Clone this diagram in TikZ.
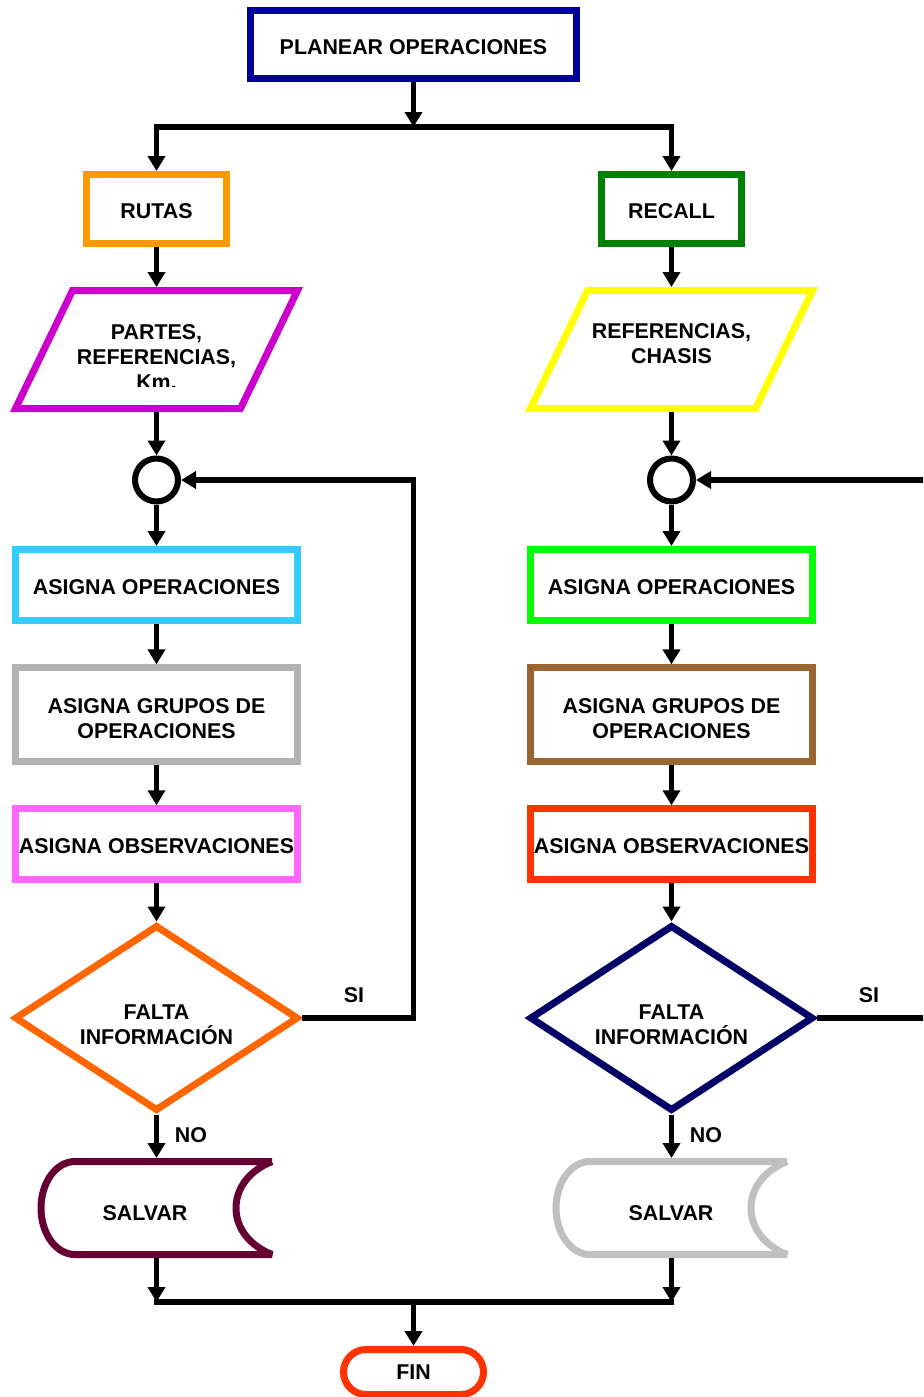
\documentclass[tikz,border=0pt]{standalone}
\usepackage{fontspec}
\setmainfont{Liberation Sans}
\usetikzlibrary{arrows.meta,shapes.geometric,calc}

\definecolor{cPlan}{RGB}{0,0,153}
\definecolor{cRutas}{RGB}{255,153,0}
\definecolor{cRecall}{RGB}{0,128,0}
\definecolor{cPartes}{RGB}{204,0,204}
\definecolor{cChasis}{RGB}{255,255,0}
\definecolor{cOpsL}{RGB}{51,204,255}
\definecolor{cOpsR}{RGB}{0,255,0}
\definecolor{cGrpL}{RGB}{178,178,178}
\definecolor{cGrpR}{RGB}{153,102,51}
\definecolor{cObsL}{RGB}{255,102,255}
\definecolor{cObsR}{RGB}{255,51,0}
\definecolor{cDecL}{RGB}{255,102,0}
\definecolor{cDecR}{RGB}{0,0,102}
\definecolor{cSavL}{RGB}{102,0,51}
\definecolor{cSavR}{RGB}{192,192,192}
\definecolor{cFin}{RGB}{255,51,0}

\begin{document}
\begin{tikzpicture}[x=0.5pt,y=-0.5pt,
  txt/.style={font=\bfseries\fontsize{10.7}{12.5}\selectfont, align=center, inner sep=0pt},
  box/.style={rectangle, draw, fill=white, line width=3.5pt, inner sep=0pt},
  wide/.style={minimum width=140.6pt},
  frame/.style={inner sep=0pt, outer sep=0pt},
  shapeline/.style={line width=3.5pt, line join=miter},
  conn/.style={line width=2.6pt, draw=black},
  arrow/.style={conn, -{Triangle[length=7.5pt,width=8.5pt]}},
  joint/.style={circle, draw=black, fill=white, line width=3pt, minimum size=21.5pt, inner sep=0pt},
  decision/.style={diamond, draw, fill=white, line width=3.5pt, inner sep=0pt,
                   minimum width=142pt, minimum height=93pt},
  storedata/.style={line width=3.5pt, line join=bevel}
]
\useasboundingbox (0,0) rectangle (923,1397);
\clip (0,0) rectangle (923,1397);
\fill[white] (0,0) rectangle (923,1397);

% ---------- top ----------
\node[box, draw=cPlan, minimum width=163pt, minimum height=34pt] (plan) at (413.5,44.5) {};
\node[txt] (planT) at (413.5,47.5) {PLANEAR OPERACIONES};
\coordinate (split) at (413.5,127);

\node[box, draw=cRutas,  minimum width=70pt, minimum height=34.5pt] (rutas)  at (156.5,209) {};
\node[box, draw=cRecall, minimum width=70pt, minimum height=34.5pt] (recall) at (671.5,209) {};
\node[txt] (rutasT)  at (156.5,211) {RUTAS};
\node[txt] (recallT) at (671.5,211) {RECALL};

% ---------- data (parallelograms) ----------
\node[frame, minimum width=146pt, minimum height=62.5pt] (pL) at (156.5,349.5) {};
\node[frame, minimum width=146pt, minimum height=62.5pt] (pR) at (671.5,349.5) {};
\begin{scope}[shift={(pL.center)}]
  \draw[shapeline, draw=cPartes, fill=white] (-84,-59) -- (141,-59) -- (84,59) -- (-141,59) -- cycle;
\end{scope}
\begin{scope}[shift={(pR.center)}]
  \draw[shapeline, draw=cChasis, fill=white] (-84,-59) -- (141,-59) -- (84,59) -- (-141,59) -- cycle;
\end{scope}
\begin{scope}
  \clip (0,280) rectangle (330,386);
  \node[txt] (pLtext) at (156.5,357) {PARTES,\\REFERENCIAS,\\Km.};
\end{scope}
\node[txt] (pRtext) at (671.5,344) {REFERENCIAS,\\CHASIS};

% ---------- joints ----------
\node[joint] (cL) at (156.5,480) {};
\node[joint] (cR) at (671.5,480) {};

% ---------- process boxes ----------
\node[box, wide, draw=cOpsL, minimum height=35.5pt] (opsL) at (156.5,585) {};
\node[box, wide, draw=cOpsR, minimum height=35.5pt] (opsR) at (671.5,585) {};
\node[box, wide, draw=cGrpL, minimum height=46.8pt] (grpL) at (156.5,714.7) {};
\node[box, wide, draw=cGrpR, minimum height=46.8pt] (grpR) at (671.5,714.7) {};
\node[box, wide, draw=cObsL, minimum height=35.2pt] (obsL) at (156.5,844) {};
\node[box, wide, draw=cObsR, minimum height=35.2pt] (obsR) at (671.5,844) {};
\node[txt] (opsLT) at (156.5,587) {ASIGNA OPERACIONES};
\node[txt] (opsRT) at (671.5,587) {ASIGNA OPERACIONES};
\node[txt] (grpLT) at (156.5,718.7) {ASIGNA GRUPOS DE\\OPERACIONES};
\node[txt] (grpRT) at (671.5,718.7) {ASIGNA GRUPOS DE\\OPERACIONES};
\node[txt] (obsLT) at (156.5,846) {ASIGNA OBSERVACIONES};
\node[txt] (obsRT) at (671.5,846) {ASIGNA OBSERVACIONES};

% ---------- decisions ----------
\node[decision, draw=cDecL] (decL) at (156.5,1018) {};
\node[decision, draw=cDecR] (decR) at (671.5,1018) {};
\node[txt] (decLT) at (156.5,1024.5) {FALTA\\INFORMACIÓN};
\node[txt] (decRT) at (671.5,1024.5) {FALTA\\INFORMACIÓN};

\node[txt] (siL) at (354,995) {SI};
\node[txt] (siR) at (869,995) {SI};
\node[txt] (noL) at (191,1135) {NO};
\node[txt] (noR) at (706,1135) {NO};

% ---------- stored data ----------
\node[frame, minimum width=119pt, minimum height=50pt] (salL) at (156.5,1208) {};
\node[frame, minimum width=119pt, minimum height=50pt] (salR) at (671.5,1208) {};
\begin{scope}[shift={(salL.center)}]
  \draw[storedata, draw=cSavL]
    (115.5,-46.5) -- (-81.5,-46.5)
    .. controls (-100.5,-46.5) and (-115.5,-25.5) .. (-115.5,0)
    .. controls (-115.5,25.5) and (-100.5,46.5) .. (-81.5,46.5)
    -- (115.5,46.5)
    .. controls (94,38) and (79.5,21) .. (79.5,0)
    .. controls (79.5,-21) and (94,-38) .. (115.5,-46.5);
\end{scope}
\begin{scope}[shift={(salR.center)}]
  \draw[storedata, draw=cSavR]
    (115.5,-46.5) -- (-81.5,-46.5)
    .. controls (-100.5,-46.5) and (-115.5,-25.5) .. (-115.5,0)
    .. controls (-115.5,25.5) and (-100.5,46.5) .. (-81.5,46.5)
    -- (115.5,46.5)
    .. controls (94,38) and (79.5,21) .. (79.5,0)
    .. controls (79.5,-21) and (94,-38) .. (115.5,-46.5);
\end{scope}
\node[txt] (salLtext) at (145,1213) {SALVAR};
\node[txt] (salRtext) at (671,1213) {SALVAR};

% ---------- end ----------
\coordinate (joinL) at (156.5,1302);
\coordinate (joinM) at (413.5,1302);
\coordinate (joinR) at (671.5,1302);
\node[box, draw=cFin, rounded corners=11.25pt, minimum width=70pt, minimum height=22.5pt] (fin) at (413.5,1372) {};
\node[txt] (finT) at (413.5,1372) {FIN};

% ---------- flow ----------
\draw[arrow] (plan.south) -- (split);
\draw[arrow] (split) -| (rutas.north);
\draw[arrow] (split) -| (recall.north);

\draw[arrow] (rutas.south) -- (pL.north);
\draw[arrow] (recall.south) -- (pR.north);
\draw[arrow] (pL.south) -- (cL.north);
\draw[arrow] (pR.south) -- (cR.north);
\draw[arrow] (cL.south) -- (opsL.north);
\draw[arrow] (cR.south) -- (opsR.north);
\draw[arrow] (opsL.south) -- (grpL.north);
\draw[arrow] (opsR.south) -- (grpR.north);
\draw[arrow] (grpL.south) -- (obsL.north);
\draw[arrow] (grpR.south) -- (obsR.north);
\draw[arrow] (obsL.south) -- (decL.north);
\draw[arrow] (obsR.south) -- (decR.north);

% loops back on "SI"
\coordinate (retL) at (413.5,480);
\coordinate (retR) at (940,480);
\draw[arrow] (decL.east) -| (retL) -- (cL.east);
\draw[arrow] (decR.east) -| (retR) -- (cR.east);

% "NO" branch
\draw[arrow] (decL.south) -- (salL.north);
\draw[arrow] (decR.south) -- (salR.north);
\draw[arrow] (salL.south) -- (joinL);
\draw[arrow] (salR.south) -- (joinR);
\draw[conn, line cap=rect] (joinL) -- (joinR);
\draw[arrow] (joinM) -- (fin.north);
\end{tikzpicture}
\end{document}
